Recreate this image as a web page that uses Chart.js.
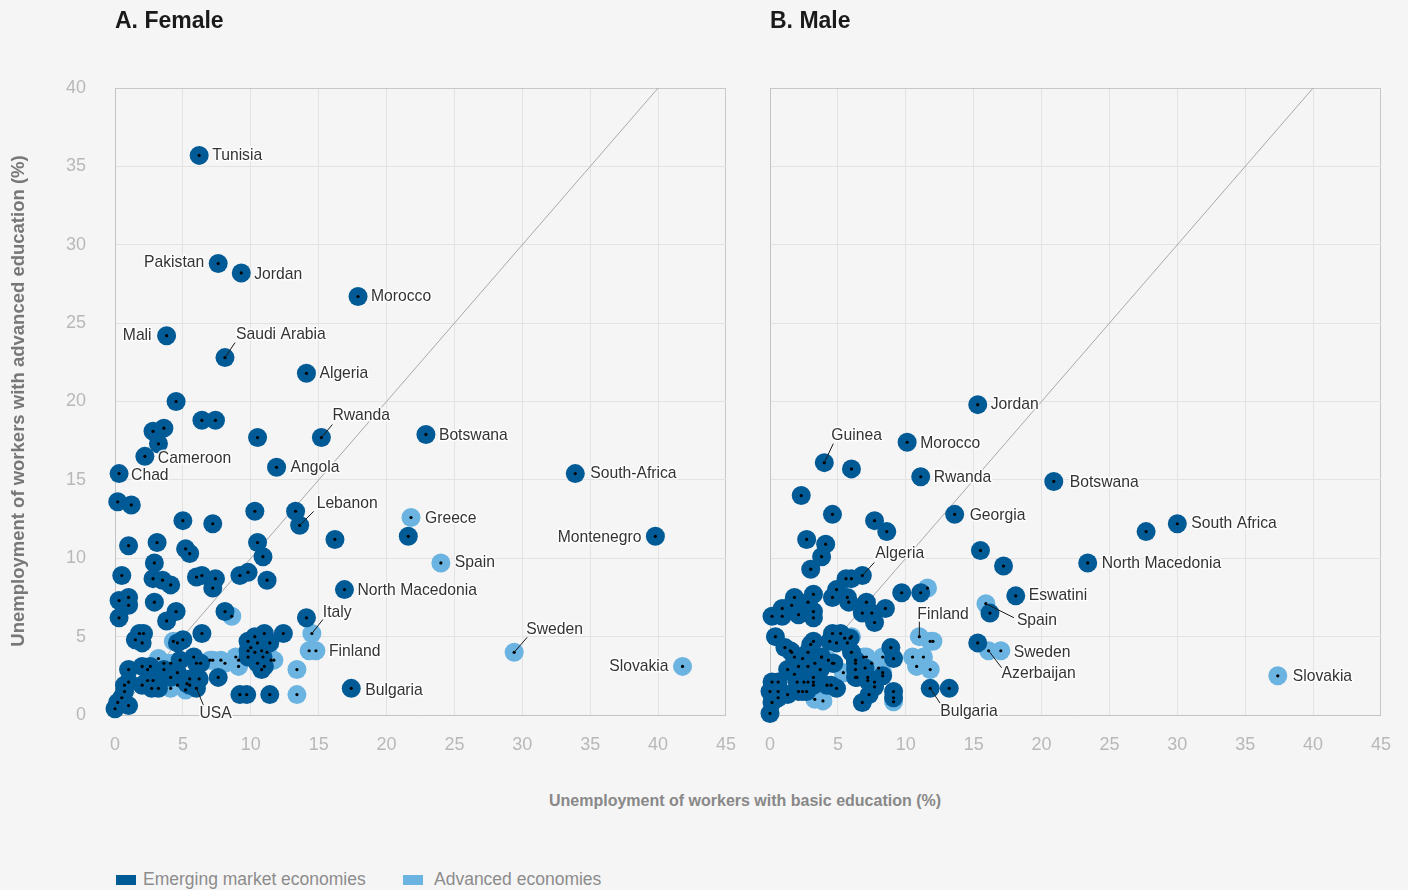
<!DOCTYPE html>
<html>
<head>
<meta charset="utf-8">
<script src="https://cdn.jsdelivr.net/npm/chart.js@4.4.0/dist/chart.umd.min.js"></script>
<style>
  body { margin: 0; background: #f5f5f5; width: 1408px; height: 890px; position: relative; overflow: hidden;
         font-family: "Liberation Sans", Arial, sans-serif; }
  .wrap { position: absolute; top: 0; }
  #wrapF { left: 0; width: 755px; height: 760px; }
  #wrapM { left: 745px; width: 665px; height: 760px; }
  .ptitle { position: absolute; top: 6px; line-height: 28px; font-size: 23px; font-weight: bold; color: #1a1a1a; }
  #ytitle { position: absolute; left: -282px; top: 391px; width: 600px; line-height: 20px; text-align: center;
            transform: rotate(-90deg); font-size: 18.5px; font-weight: bold; color: #777; }
  #xtitle { position: absolute; left: 445px; top: 791px; width: 600px; line-height: 20px; text-align: center;
            font-size: 16px; font-weight: bold; color: #888; }
  .lgbox { position: absolute; top: 875px; width: 20px; height: 10px; }
  .lgtext { position: absolute; top: 869px; line-height: 20px; font-size: 17.5px; color: #8c8c8c; }
</style>
</head>
<body>
<div class="wrap" id="wrapF"><canvas id="femaleChart" width="755" height="760"></canvas></div>
<div class="wrap" id="wrapM"><canvas id="maleChart" width="665" height="760"></canvas></div>
<div class="ptitle" style="left:115px">A. Female</div>
<div class="ptitle" style="left:770px">B. Male</div>
<div id="ytitle">Unemployment of workers with advanced education (%)</div>
<div id="xtitle">Unemployment of workers with basic education (%)</div>
<div class="lgbox" style="left:116px;background:#005a96"></div>
<div class="lgtext" style="left:143px">Emerging market economies</div>
<div class="lgbox" style="left:403px;background:#6bb3e0"></div>
<div class="lgtext" style="left:434px">Advanced economies</div>

<script>
// ---- data: [basic education %, advanced education %] ----
// labelled points come first, in the same order as the names lists
var femaleEmergingNames = ["Tunisia", "Pakistan", "Jordan", "Morocco", "Mali", "Saudi Arabia", "Algeria",
    "Rwanda", "Botswana", "Cameroon", "Chad", "Angola", "South-Africa", "Lebanon", "Montenegro",
    "North Macedonia", "Bulgaria", "USA"];
var femaleEmerging = [
    [6.2, 35.7], [7.6, 28.8], [9.3, 28.2], [17.9, 26.7], [3.8, 24.2], [8.1, 22.8], [14.1, 21.8],
    [15.2, 17.7], [22.9, 17.9], [2.2, 16.5], [0.3, 15.4], [11.9, 15.8], [33.9, 15.4], [13.6, 12.1], [39.8, 11.4],
    [16.9, 8.0], [17.4, 1.7], [6.0, 1.7],
    [4.5, 20.0], [6.4, 18.8], [7.4, 18.8], [2.8, 18.1], [3.6, 18.3], [3.2, 17.3], [10.5, 17.7],
    [0.2, 13.6], [1.2, 13.4], [5.0, 12.4], [7.2, 12.2], [10.3, 13.0], [13.3, 13.0], [16.2, 11.2], [21.6, 11.4],
    [1.0, 10.8], [3.1, 11.0], [5.2, 10.6], [5.5, 10.3], [10.5, 11.0], [10.9, 10.1], [2.9, 9.7],
    [0.5, 8.9], [2.8, 8.7], [3.5, 8.6], [4.1, 8.3], [6.0, 8.8], [6.4, 8.9], [7.2, 8.1], [7.4, 8.7],
    [9.2, 8.9], [9.8, 9.1], [11.2, 8.6],
    [0.3, 7.3], [1.0, 7.5], [1.0, 7.0], [2.9, 7.2], [0.3, 6.2], [4.5, 6.6], [3.8, 6.0], [8.1, 6.6], [14.1, 6.2],
    [11.4, 1.3], [9.2, 1.3], [9.7, 1.3], [7.6, 2.4],
    [1.5, 4.8], [1.8, 5.2], [2.1, 5.2], [2.0, 4.6], [4.6, 4.6], [5.0, 4.8], [6.4, 5.2],
    [0.0, 0.4], [0.2, 0.8], [0.5, 1.1], [0.7, 1.5], [0.7, 1.9], [1.0, 2.1], [1.0, 0.6],
    [1.0, 2.9], [2.0, 3.1], [2.4, 2.9], [2.6, 3.1], [2.8, 2.2], [2.4, 2.2], [2.0, 1.9], [2.7, 1.7], [3.2, 1.7],
    [3.6, 2.9], [4.1, 2.4], [4.6, 2.7], [4.8, 3.5], [5.8, 3.7], [6.0, 3.3], [6.3, 3.3],
    [5.5, 2.3], [5.3, 2.0], [5.5, 1.9], [6.2, 2.3],
    [9.8, 4.7], [10.3, 5.0], [11.0, 5.2], [12.4, 5.2], [10.0, 4.3], [9.8, 4.1], [10.8, 4.1], [11.4, 4.6],
    [9.8, 3.7], [10.3, 4.0], [10.9, 3.7], [10.5, 3.3], [11.0, 3.1], [10.8, 2.9], [10.5, 4.6]
];
var femaleAdvancedNames = ["Greece", "Spain", "Sweden", "Slovakia", "Italy", "Finland"];
var femaleAdvanced = [
    [21.8, 12.6], [24.0, 9.7], [29.4, 4.0], [41.8, 3.1], [14.5, 5.2], [14.8, 4.1],
    [14.3, 4.1], [13.4, 1.3], [13.4, 2.9], [8.6, 6.3], [4.3, 4.7], [7.0, 3.5], [7.2, 3.5], [8.1, 3.3],
    [8.9, 3.7], [9.1, 3.5], [9.1, 3.1], [4.1, 1.7], [4.6, 1.9], [11.5, 3.5], [3.6, 3.3], [4.1, 3.3],
    [5.2, 1.6], [11.2, 4.0], [11.7, 3.5], [7.8, 3.5], [3.2, 3.6]
];

var maleEmergingNames = ["Jordan", "Guinea", "Morocco", "Rwanda", "Botswana", "Georgia", "South Africa",
    "North Macedonia", "Algeria", "Eswatini", "Bulgaria"];
var maleEmerging = [
    [15.3, 19.8], [4.0, 16.1], [10.1, 17.4], [11.1, 15.2], [20.9, 14.9], [13.6, 12.8], [30.0, 12.2],
    [23.4, 9.7], [6.8, 8.9], [18.1, 7.6], [11.8, 1.7],
    [6.0, 15.7], [2.3, 14.0], [4.6, 12.8], [7.7, 12.4], [8.6, 11.7], [27.7, 11.7], [2.7, 11.2], [4.1, 10.9],
    [3.8, 10.1], [3.0, 9.3], [15.5, 10.5], [17.2, 9.5], [6.0, 8.7], [5.6, 8.7],
    [9.7, 7.8], [11.1, 7.8], [16.2, 6.5], [15.3, 4.6], [13.2, 1.7], [9.1, 1.5], [9.1, 1.1], [8.9, 4.3],
    [9.1, 3.6], [8.3, 2.5],
    [7.1, 7.2], [6.8, 6.5], [7.5, 6.5], [7.7, 5.9], [8.5, 6.8], [6.8, 0.8], [7.3, 1.3], [7.2, 2.2],
    [7.7, 2.1], [6.4, 2.4], [6.3, 2.9],
    [1.8, 7.5], [1.6, 7.0], [0.9, 6.8], [2.8, 7.2], [3.2, 7.7], [3.2, 6.6], [3.2, 6.2],
    [4.9, 8.0], [4.6, 7.5], [5.7, 7.5], [5.8, 7.2],
    [0.15, 6.3], [0.9, 6.3], [2.1, 6.4], [0.4, 5.0],
    [1.1, 4.3], [1.5, 4.1], [1.6, 4.0], [1.8, 3.7], [2.4, 3.6], [2.8, 4.0], [3.2, 4.7], [3.0, 4.5], [3.8, 3.7],
    [4.6, 5.2], [5.2, 5.2], [4.4, 4.7], [4.9, 4.6], [5.5, 4.9], [5.9, 4.9], [5.7, 4.6],
    [4.6, 3.3], [4.7, 3.3],
    [1.3, 2.9], [2.1, 3.1], [1.8, 2.6], [2.8, 3.1], [3.3, 3.3], [3.7, 2.9],
    [0.15, 2.1], [0.6, 2.1], [0.0, 1.5], [0.6, 1.5], [1.3, 1.3], [2.1, 1.5], [2.4, 1.5], [2.7, 1.5],
    [3.2, 2.4], [3.2, 2.1], [2.8, 2.1], [2.0, 2.1], [2.5, 2.1], [3.2, 1.9],
    [0.15, 0.8], [0.6, 1.1], [0.0, 0.1], [4.9, 1.7], [4.2, 1.9], [4.5, 1.9],
    [6.3, 3.3], [6.0, 4.0], [6.3, 3.5], [7.0, 3.0], [6.3, 2.4], [7.2, 2.4], [7.7, 1.8]
];
var maleAdvancedNames = ["Finland", "Spain", "Sweden", "Azerbaijan", "Slovakia"];
var maleAdvanced = [
    [11.0, 5.0], [15.9, 7.1], [17.0, 4.1], [16.1, 4.1], [37.4, 2.5],
    [11.6, 8.1], [11.8, 4.7], [12.0, 4.7], [9.1, 0.85], [10.5, 3.7], [11.3, 3.7], [10.8, 3.1], [11.8, 2.9],
    [6.9, 3.7], [7.1, 3.7], [8.3, 3.7], [8.3, 2.7], [6.0, 5.0], [3.8, 3.7], [4.3, 3.5], [3.3, 1.0],
    [3.9, 0.9], [5.4, 2.7], [7.5, 3.3], [8.0, 3.0]
];

var diagonal = [[0, 0], [40, 40]];
var xTicks = { min: 0, max: 45, step: 5 };
var yTicks = { min: 0, max: 40, step: 5 };

// label placement (pixel offsets from the point; lx/ly = end of leader line)
var femaleLabelLayout = {
    "Tunisia": { dx: 13, dy: 0 }, "Pakistan": { dx: -14, dy: -1, align: "right" }, "Jordan": { dx: 13, dy: 2 },
    "Morocco": { dx: 13, dy: 0 }, "Mali": { dx: -15, dy: 0, align: "right" },
    "Saudi Arabia": { dx: 11, dy: -23, lx: 10, ly: -15 }, "Algeria": { dx: 13, dy: 0 },
    "Rwanda": { dx: 11, dy: -22, lx: 11, ly: -13 }, "Botswana": { dx: 13, dy: 1 }, "Cameroon": { dx: 13, dy: 2 },
    "Chad": { dx: 12, dy: 2 }, "Angola": { dx: 14, dy: 0 }, "South-Africa": { dx: 15, dy: 0 },
    "Lebanon": { dx: 17, dy: -22, lx: 14, ly: -14 }, "Montenegro": { dx: -14, dy: 1, align: "right" },
    "North Macedonia": { dx: 13, dy: 1 }, "Bulgaria": { dx: 14, dy: 2 },
    "USA": { dx: 3, dy: 25, lx: 7, ly: 17 }, "Greece": { dx: 14, dy: 1 }, "Spain": { dx: 14, dy: 0 },
    "Sweden": { dx: 12, dy: -23, lx: 13, ly: -15 }, "Slovakia": { dx: -14, dy: 0, align: "right" },
    "Italy": { dx: 11, dy: -21, lx: 11, ly: -14 }, "Finland": { dx: 13, dy: 1 }
};
var maleLabelLayout = {
    "Jordan": { dx: 13, dy: 0 }, "Guinea": { dx: 7, dy: -27, lx: 9, ly: -19 }, "Morocco": { dx: 13, dy: 1 },
    "Rwanda": { dx: 13, dy: 1 }, "Botswana": { dx: 16, dy: 1 }, "Georgia": { dx: 15, dy: 1 },
    "South Africa": { dx: 14, dy: 0 }, "North Macedonia": { dx: 14, dy: 1 },
    "Algeria": { dx: 13, dy: -22, lx: 12, ly: -13 }, "Eswatini": { dx: 13, dy: 0 },
    "Bulgaria": { dx: 10, dy: 23, lx: 10, ly: 15 }, "Finland": { dx: -2, dy: -22, lx: 0, ly: -15 },
    "Spain": { dx: 31, dy: 17, lx: 28, ly: 14 }, "Sweden": { dx: 13, dy: 2 },
    "Azerbaijan": { dx: 13, dy: 23, lx: 13, ly: 17 }, "Slovakia": { dx: 15, dy: 1 }
};

var darkBlue = "#005a96";
var lightBlue = "#6bb3e0";

function toPoints(arr) {
    return arr.map(function (p) { return { x: p[0], y: p[1] }; });
}

// black centre dot on every marker
var centreDots = {
    id: "centreDots",
    afterDatasetsDraw: function (chart) {
        var ctx = chart.ctx;
        ctx.save();
        ctx.fillStyle = "#000";
        chart.data.datasets.forEach(function (ds, i) {
            if (ds.type === "line") return;
            chart.getDatasetMeta(i).data.forEach(function (el) {
                ctx.beginPath();
                ctx.arc(el.x, el.y, 1.6, 0, Math.PI * 2);
                ctx.fill();
            });
        });
        ctx.restore();
    }
};

// country names with leader lines
var countryLabels = {
    id: "countryLabels",
    afterDraw: function (chart, args, opts) {
        var ctx = chart.ctx;
        var layout = opts.layout || {};
        ctx.save();
        ctx.font = "15.7px 'Liberation Sans', Arial, sans-serif";
        ctx.textBaseline = "middle";
        chart.data.datasets.forEach(function (ds, i) {
            if (!ds.names) return;
            var els = chart.getDatasetMeta(i).data;
            ds.names.forEach(function (name, j) {
                var l = layout[name];
                var el = els[j];
                if (!l || !el) return;
                if (l.lx !== undefined) {
                    ctx.strokeStyle = "#1a1a1a";
                    ctx.lineWidth = 1;
                    ctx.beginPath();
                    ctx.moveTo(el.x, el.y);
                    ctx.lineTo(el.x + l.lx, el.y + l.ly);
                    ctx.stroke();
                }
                ctx.textAlign = l.align || "left";
                ctx.lineJoin = "round";
                ctx.strokeStyle = "rgba(255,255,255,0.85)";
                ctx.lineWidth = 3;
                ctx.strokeText(name, el.x + l.dx, el.y + l.dy);
                ctx.fillStyle = "#333";
                ctx.fillText(name, el.x + l.dx, el.y + l.dy);
            });
        });
        ctx.restore();
    }
};

function makeChart(canvasId, emerging, emergingNames, advanced, advancedNames, layout, showY, yWidth, rightPad) {
    var canvas = document.getElementById(canvasId).getContext("2d");
    return new Chart(canvas, {
        type: "scatter",
        data: {
            datasets: [{
                label: "Emerging market economies",
                data: toPoints(emerging),
                names: emergingNames,
                backgroundColor: darkBlue,
                borderWidth: 0,
                pointRadius: 9.5,
                clip: false
            }, {
                label: "Advanced economies",
                data: toPoints(advanced),
                names: advancedNames,
                backgroundColor: lightBlue,
                borderWidth: 0,
                pointRadius: 9.5,
                clip: false
            }, {
                type: "line",
                data: toPoints(diagonal),
                borderColor: "#a8a8a8",
                borderWidth: 1,
                pointRadius: 0,
                fill: false
            }]
        },
        plugins: [centreDots, countryLabels],
        options: {
            responsive: false,
            animation: false,
            events: [],
            devicePixelRatio: 1,
            layout: { padding: { top: 88, right: rightPad, left: 0, bottom: 0 } },
            plugins: {
                legend: { display: false },
                tooltip: { enabled: false },
                countryLabels: { layout: layout }
            },
            scales: {
                x: {
                    type: "linear",
                    min: xTicks.min, max: xTicks.max,
                    ticks: { stepSize: xTicks.step, padding: 19, color: "#b8b8b8",
                             font: { family: "'Liberation Sans', Arial, sans-serif", size: 18 } },
                    grid: { drawTicks: false,
                            color: function (c) { return c.tick && c.tick.value === xTicks.max ? "#c8c8c8" : "#e3e3e3"; } },
                    border: { color: "#c4c4c4" },
                    afterFit: function (s) { s.height = 45; }
                },
                y: {
                    type: "linear",
                    min: yTicks.min, max: yTicks.max,
                    ticks: { display: showY, stepSize: yTicks.step, padding: 29, color: "#b8b8b8",
                             font: { family: "'Liberation Sans', Arial, sans-serif", size: 18 } },
                    grid: { drawTicks: false,
                            color: function (c) { return c.tick && c.tick.value === yTicks.max ? "#c8c8c8" : "#e3e3e3"; } },
                    border: { color: "#c4c4c4" },
                    afterFit: function (s) { s.width = yWidth; }
                }
            }
        }
    });
}

window.femaleChart = makeChart("femaleChart", femaleEmerging, femaleEmergingNames, femaleAdvanced,
    femaleAdvancedNames, femaleLabelLayout, true, 115, 20);
window.maleChart = makeChart("maleChart", maleEmerging, maleEmergingNames, maleAdvanced,
    maleAdvancedNames, maleLabelLayout, false, 25, 28);
</script>
</body>
</html>
